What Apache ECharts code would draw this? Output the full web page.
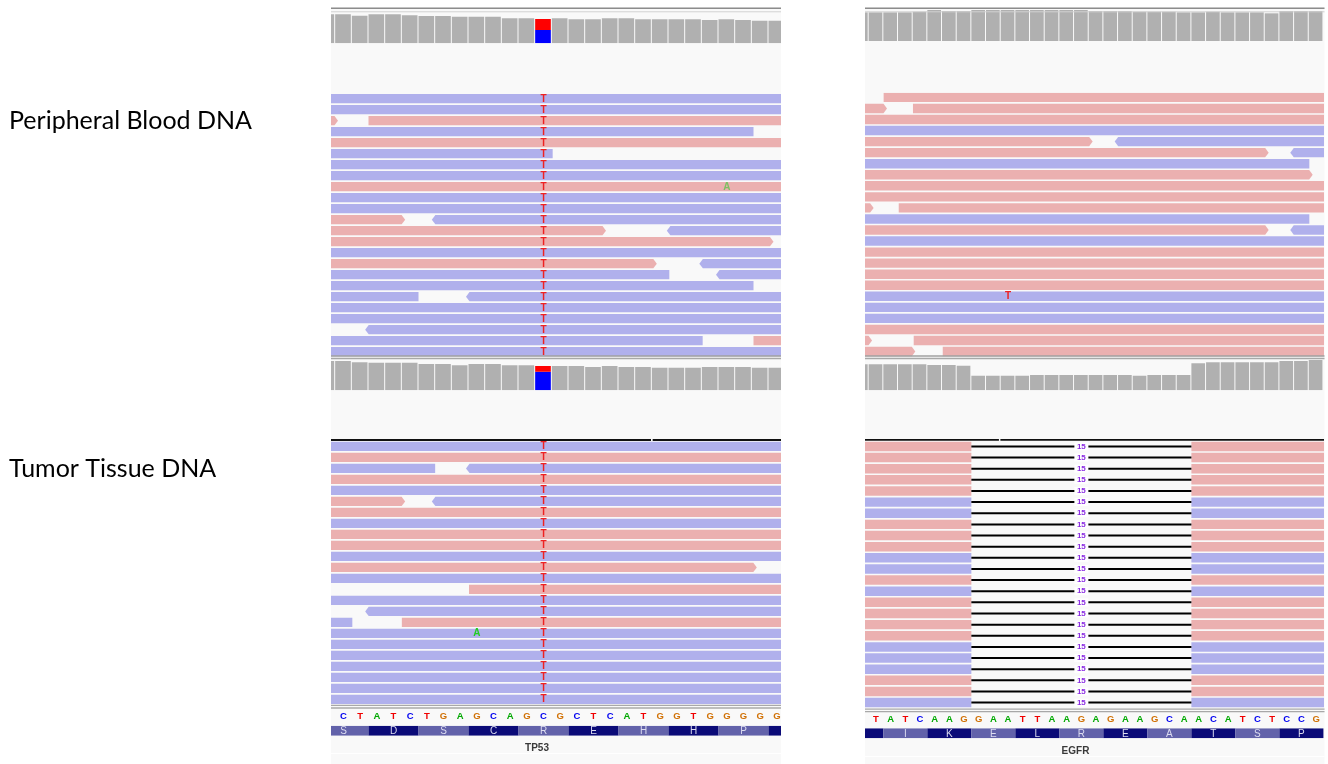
<!DOCTYPE html>
<html><head><meta charset="utf-8">
<script src="https://cdn.jsdelivr.net/npm/echarts@6/dist/echarts.min.js"></script>
<style>html,body{margin:0;padding:0;background:#fff;}#c{width:1328px;height:764px;}</style>
</head><body><div id="c"></div>
<script>
// ================= DATA =================
const sampleLabels = ['Peripheral Blood DNA', 'Tumor Tissue DNA'];
const geneNames = ['TP53', 'EGFR'];
const seqTP53 = ['C','T','A','T','C','T','G','A','G','C','A','G','C','G','C','T','C','A','T','G','G','T','G','G','G','G','G'];
const seqEGFR = ['T','A','T','C','A','A','G','G','A','A','T','T','A','A','G','A','G','A','A','G','C','A','A','C','A','T','C','T','C','C','G'];
// codon start position, amino acid
const aaTP53 = [[-1,'S'],[2,'D'],[5,'S'],[8,'C'],[11,'R'],[14,'E'],[17,'H'],[20,'H'],[23,'P'],[26,'']];
const aaEGFR = [[-2,''],[1,'I'],[4,'K'],[7,'E'],[10,'L'],[13,'R'],[16,'E'],[19,'A'],[22,'T'],[25,'S'],[28,'P']];
// coverage depth, first value at position -1
const covStart = -1;
const covBloodTP53 = [87,87,83,87,87,84,82,82,80,80,80,75,75,73,75,72,72,75,75,72,72,72,72,70,72,70,68,68];
const covBloodEGFR = [86,86,86,86,88,93,90,90,93,93,93,93,93,93,93,93,90,90,90,88,88,88,86,86,88,86,86,86,83,90,90,90];
const covTumorTP53 = [88,88,84,83,83,83,79,79,75,79,79,75,75,73,73,73,70,73,70,70,68,68,68,70,70,70,68,68];
const covTumorEGFR = [78,78,78,78,78,76,76,74,44,44,44,44,46,46,46,46,46,46,46,44,46,46,46,81,84,84,84,84,84,88,88,91];
// allele split at variant position: [pos, T count, C count]
const alleleBloodTP53 = [12, 33, 40];
const alleleTumorTP53 = [12, 17, 56];
// reads: [row, start, end, strand(1 fwd, -1 rev)]
const readsBloodTP53 = [
 [0,-3,30,-1],[1,-3,30,-1],[2,-3,0.17,1],[2,2,30,1],[3,-3,25.1,-1],[4,-3,30,1],[5,-3,13.05,-1],
 [6,-3,30,-1],[7,-3,30,-1],[8,-3,30,1],[9,-3,30,-1],[10,-3,30,-1],[11,-3,4.2,1],[11,5.8,30,-1],
 [12,-3,16.25,1],[12,19.9,30,-1],[13,-3,26.3,1],[14,-3,30,-1],[15,-3,19.3,1],[15,21.85,30,-1],
 [16,-3,20.05,-1],[16,22.85,30,-1],[17,-3,25.1,-1],[18,-3,5.0,-1],[18,7.85,30,-1],[19,-3,30,-1],
 [20,-3,30,-1],[21,1.8,30,-1],[22,-3,22.05,-1],[22,25.1,30,1],[23,-3,30,-1]
];
const readsBloodEGFR = [
 [0,1.02,35,1],[1,-3,1.25,1],[1,3.02,35,1],[2,-3,35,1],[3,-3,35,-1],[4,-3,15.27,1],[4,16.77,35,-1],
 [5,-3,27.27,1],[5,28.74,35,-1],[6,-3,30.04,-1],[7,-3,30.27,1],[8,-3,35,1],[9,-3,35,1],
 [10,-3,0.34,1],[10,2.05,35,1],[11,-3,30.04,-1],[12,-3,27.27,1],[12,28.74,35,-1],[13,-3,35,-1],
 [14,-3,35,1],[15,-3,35,1],[16,-3,35,1],[17,-3,35,1],[18,-3,35,-1],[19,-3,35,-1],[20,-3,35,-1],
 [21,-3,35,1],[22,-3,0.23,1],[22,3.07,35,1],[23,-3,3.18,1],[23,5.05,35,1]
];
const readsTumorTP53 = [
 [0,-3,30,-1],[1,-3,30,1],[2,-3,6.0,-1],[2,7.85,30,-1],[3,-3,30,1],[4,-3,30,-1],[5,-3,4.2,1],[5,5.8,30,-1],
 [6,-3,30,1],[7,-3,30,-1],[8,-3,30,1],[9,-3,30,1],[10,-3,30,-1],[11,-3,25.3,1],[12,-3,30,-1],
 [13,8.03,30,1],[14,-3,30,-1],[15,1.8,30,-1],[16,-3,1.03,-1],[16,4.0,30,1],[17,-3,30,-1],
 [18,-3,30,-1],[19,-3,30,-1],[20,-3,30,-1],[21,-3,30,-1],[22,-3,30,-1],[23,-3,30,-1]
];
// tumor EGFR reads all carry the 15 bp deletion: strand per row
const strandTumorEGFR = [1,1,1,1,1,-1,-1,1,1,1,-1,-1,1,-1,1,1,1,1,-1,-1,-1,1,1,-1];
const readSpanTumorEGFR = [-3, 36];
const delTumorEGFR = [7, 22, '15'];
// mismatches: [row, pos, base, quality]
const mmBloodTP53 = [
 [0,12,'T',1],[1,12,'T',1],[2,12,'T',1],[3,12,'T',1],[4,12,'T',1],[5,12,'T',1],[6,12,'T',1],[7,12,'T',1],
 [8,12,'T',1],[9,12,'T',1],[10,12,'T',1],[11,12,'T',1],[12,12,'T',1],[13,12,'T',1],[14,12,'T',1],[15,12,'T',1],
 [16,12,'T',1],[17,12,'T',1],[18,12,'T',1],[19,12,'T',1],[20,12,'T',1],[21,12,'T',1],[22,12,'T',1],[23,12,'T',1],
 [8,23,'A',0.55]
];
const mmBloodEGFR = [[18,9,'T',1]];
const mmTumorTP53 = [
 [0,12,'T',1],[1,12,'T',1],[2,12,'T',1],[3,12,'T',1],[4,12,'T',1],[5,12,'T',1],[6,12,'T',1],[7,12,'T',1],
 [8,12,'T',1],[9,12,'T',1],[10,12,'T',1],[11,12,'T',1],[12,12,'T',1],[13,12,'T',1],[14,12,'T',1],[15,12,'T',1],
 [16,12,'T',1],[17,12,'T',1],[18,12,'T',1],[19,12,'T',1],[20,12,'T',1],[21,12,'T',1],[22,12,'T',1],[23,12,'T',1],
 [17,8,'A',1]
];
// downsampled intervals (black bars)
const dsTumorTP53 = [[-1,18.95],[19.05,28]];
const dsTumorEGFR = [[-1,8.88],[8.98,33]];

// ================= STYLE / LAYOUT =================
const PINK = '#ebb0b0', BLUE = '#b0b0ec', COVGRAY = '#b0b0b0';
const BASECOL = {A:'#00a800', C:'#0000f0', G:'#d17105', T:'#f00000'};
const MMCOL = {A:'#22cc22', C:'#0000ff', G:'#d17105', T:'#ee2222'};
const FONT = '"Liberation Sans", Arial, sans-serif';
const XL = {left:331, width:450, min:-0.25, max:26.75};
const XR = {left:865, width:459, min:-0.25, max:31.04};
const grids = [
  {x:XL, top:11.3, height:32, ymin:0, ymax:96},            //0 cov blood TP53
  {x:XL, top:94, height:264, ymin:0, ymax:24, inv:true},    //1 reads blood TP53
  {x:XR, top:9, height:32, ymin:0, ymax:96},                //2 cov blood EGFR
  {x:XR, top:92.7, height:265.2, ymin:0, ymax:24, inv:true},//3 reads blood EGFR
  {x:XL, top:358.3, height:32, ymin:0, ymax:96},            //4 cov tumor TP53
  {x:XL, top:439, height:266.75, ymin:-0.25, ymax:24, inv:true}, //5 reads tumor TP53
  {x:XR, top:358.3, height:32, ymin:0, ymax:96},            //6 cov tumor EGFR
  {x:XR, top:438.9, height:270.1, ymin:-0.25, ymax:24, inv:true}, //7 reads tumor EGFR
  {x:XL, top:711, height:10, ymin:0, ymax:1},               //8 seq TP53
  {x:XL, top:725.7, height:10, ymin:0, ymax:1},             //9 aa TP53
  {x:XR, top:714.3, height:10, ymin:0, ymax:1},             //10 seq EGFR
  {x:XR, top:728.3, height:10, ymin:0, ymax:1}              //11 aa EGFR
];

function covSeries(gi, cov, allele) {
  return {type:'custom', xAxisIndex:gi, yAxisIndex:gi, clip:true,
    data: cov.map((v,i)=>[covStart+i, v]),
    renderItem(p, api) {
      const x = api.value(0), v = api.value(1);
      const p0 = api.coord([x,0]), p1 = api.coord([x+1,v]);
      const w = p1[0]-p0[0]-1;
      if (allele && x === allele[0]) {
        const pc = api.coord([x, allele[2]]);
        return {type:'group', children:[
          {type:'rect', shape:{x:p0[0], y:pc[1], width:w, height:p0[1]-pc[1]}, style:{fill:'#0000ff'}},
          {type:'rect', shape:{x:p0[0], y:p1[1], width:w, height:pc[1]-p1[1]}, style:{fill:'#ff0000'}}
        ]};
      }
      return {type:'rect', shape:{x:p0[0], y:p1[1], width:w, height:p0[1]-p1[1]}, style:{fill:COVGRAY}};
    }};
}
function readShape(x0, x1, y0, h, st) {
  const y1 = y0+h, ym = y0+h/2, t = 3.5;
  const pts = st > 0 ? [[x0,y0],[x1-t,y0],[x1,ym],[x1-t,y1],[x0,y1]]
                     : [[x0+t,y0],[x1,y0],[x1,y1],[x0+t,y1],[x0,ym]];
  return {type:'polygon', shape:{points:pts}, style:{fill: st>0?PINK:BLUE}};
}
function readsSeries(gi, reads) {
  return {type:'custom', xAxisIndex:gi, yAxisIndex:gi, clip:true,
    data: reads.map(r=>[r[1], r[2], r[0], r[3]]),
    renderItem(p, api) {
      const s=api.value(0), e=api.value(1), row=api.value(2), st=api.value(3);
      const a = api.coord([s,row]), b = api.coord([e,row]), c = api.coord([s,row+1]);
      const pitch = c[1]-a[1];
      return readShape(a[0], b[0], a[1], pitch*0.85, st);
    }};
}
function mmSeries(gi, mm) {
  return {type:'custom', xAxisIndex:gi, yAxisIndex:gi, clip:true, z:5,
    data: mm.map(m=>[m[1], m[0], m[3]]),
    renderItem(p, api) {
      const pos=api.value(0), row=api.value(1), q=api.value(2);
      const a = api.coord([pos+0.5,row]), c = api.coord([pos+0.5,row+1]);
      const base = mm[p.dataIndex][2];
      return {type:'text', x:a[0], y:a[1]+(c[1]-a[1])*0.45,
        style:{text:base, fill:MMCOL[base], opacity:q, font:'bold 10px '+FONT, align:'center', verticalAlign:'middle', textAlign:'center', textVerticalAlign:'middle'}};
    }};
}
function delReadsSeries(gi, strands, span, del) {
  return {type:'custom', xAxisIndex:gi, yAxisIndex:gi, clip:true,
    data: strands.map((s,i)=>[i, s]),
    renderItem(p, api) {
      const row=api.value(0), st=api.value(1);
      const a = api.coord([span[0],row]), c = api.coord([span[0],row+1]);
      const pitch = c[1]-a[1], h = pitch*0.85, y0 = a[1];
      const d0 = api.coord([del[0],row])[0], d1 = api.coord([del[1],row])[0], e = api.coord([span[1],row])[0];
      const ym = y0 + h/2, xm = (d0+d1)/2;
      return {type:'group', children:[
        {type:'rect', shape:{x:a[0], y:y0, width:d0-a[0], height:h}, style:{fill:st>0?PINK:BLUE}},
        {type:'rect', shape:{x:d1, y:y0, width:e-d1, height:h}, style:{fill:st>0?PINK:BLUE}},
        {type:'line', shape:{x1:d0, y1:ym, x2:d1, y2:ym}, style:{stroke:'#000', lineWidth:2}},
        {type:'rect', shape:{x:xm-7, y:ym-4, width:14, height:8}, style:{fill:'#fff'}},
        {type:'text', x:xm, y:ym, style:{text:del[2], fill:'#8a2be2', font:'bold 8px '+FONT, align:'center', verticalAlign:'middle', textAlign:'center', textVerticalAlign:'middle'}}
      ]};
    }};
}
function dsSeries(gi, ds) {
  return {type:'custom', xAxisIndex:gi, yAxisIndex:gi, clip:true, z:4,
    data: ds.map(d=>[d[0], d[1]]),
    renderItem(p, api) {
      const a = api.coord([api.value(0), -0.17]), b = api.coord([api.value(1), -0.17]);
      return {type:'line', shape:{x1:a[0], y1:a[1], x2:b[0], y2:b[1]}, style:{stroke:'#111', lineWidth:2}};
    }};
}
function seqSeries(gi, seq) {
  return {type:'custom', xAxisIndex:gi, yAxisIndex:gi, clip:true,
    data: seq.map((b,i)=>[i, 0.5]),
    renderItem(p, api) {
      const c = api.coord([api.value(0)+0.5, 0.5]);
      const b = seq[p.dataIndex];
      return {type:'text', x:c[0], y:c[1], style:{text:b, fill:BASECOL[b], font:'bold 9.5px '+FONT, align:'center', verticalAlign:'middle', textAlign:'center', textVerticalAlign:'middle'}};
    }};
}
function aaSeries(gi, aa, firstDark) {
  return {type:'custom', xAxisIndex:gi, yAxisIndex:gi, clip:true,
    data: aa.map(a=>[a[0], 0]),
    renderItem(p, api) {
      const s = api.value(0);
      const a = api.coord([s, 1]), b = api.coord([s+3, 0]);
      const dark = (p.dataIndex % 2 === 0) === firstDark;
      return {type:'group', children:[
        {type:'rect', shape:{x:a[0], y:a[1], width:b[0]-a[0], height:b[1]-a[1]}, style:{fill: dark?'#0b0b78':'#6262aa'}},
        {type:'text', x:(a[0]+b[0])/2, y:(a[1]+b[1])/2+0.5, style:{text:aa[p.dataIndex][1], fill:'#dcdcf0', font:'10px '+FONT, align:'center', verticalAlign:'middle', textAlign:'center', textVerticalAlign:'middle'}}
      ]};
    }};
}

const chart = echarts.init(document.getElementById('c'), null, {renderer:'canvas'});
const hline = (x1,x2,y,c,w)=>({type:'line', z:100, shape:{x1,y1:y,x2,y2:y}, style:{stroke:c, lineWidth:w}});
chart.setOption({
  animation:false,
  grid: grids.map(g=>({left:g.x.left, width:g.x.width, top:g.top, height:g.height, containLabel:false})),
  xAxis: grids.map((g,i)=>({type:'value', gridIndex:i, min:g.x.min, max:g.x.max, show:false})),
  yAxis: grids.map((g,i)=>({type:'value', gridIndex:i, min:g.ymin, max:g.ymax, inverse:!!g.inv, show:false})),
  graphic: [
    {type:'rect', z:0, shape:{x:331, y:7.5, width:450, height:757}, style:{fill:'#f9f9f9'}},
    {type:'rect', z:0, shape:{x:865, y:7.5, width:459.5, height:757}, style:{fill:'#f9f9f9'}},
    hline(331,781,8.3,'#8c8c8c',1.5), hline(331,781,11.8,'#d2d2d2',1),
    hline(865,1324.5,8.3,'#8c8c8c',1.5), hline(865,1324.5,11.8,'#d2d2d2',1),
    hline(331,781,356,'#a0a0a0',1.5), hline(331,781,358.5,'#a8a8a8',1.5),
    hline(865,1324.5,356,'#a0a0a0',1.5), hline(865,1324.5,358.5,'#a8a8a8',1.5),
    hline(331,781,705.4,'#a8a8a8',1.3), hline(331,781,708,'#a8a8a8',1.3),
    hline(865,1324.5,709.2,'#a8a8a8',1.3), hline(865,1324.5,711.6,'#a8a8a8',1.3),
    hline(331,781,753.5,'#ffffff',1), hline(865,1324.5,756.5,'#ffffff',1),
    {type:'text', z:100, x:537, y:748, style:{text:geneNames[0], font:'bold 10px '+FONT, fill:'#3a3a3a', align:'center', verticalAlign:'middle', textAlign:'center', textVerticalAlign:'middle'}},
    {type:'text', z:100, x:1075.5, y:751, style:{text:geneNames[1], font:'bold 10px '+FONT, fill:'#3a3a3a', align:'center', verticalAlign:'middle', textAlign:'center', textVerticalAlign:'middle'}},
    {type:'text', z:100, x:9, y:121, style:{text:sampleLabels[0], font:'25px Lato, "Open Sans", sans-serif', fill:'#000', verticalAlign:'middle', textVerticalAlign:'middle'}},
    {type:'text', z:100, x:9, y:469, style:{text:sampleLabels[1], font:'25px Lato, "Open Sans", sans-serif', fill:'#000', verticalAlign:'middle', textVerticalAlign:'middle'}}
  ],
  series: [
    covSeries(0, covBloodTP53, alleleBloodTP53),
    readsSeries(1, readsBloodTP53), mmSeries(1, mmBloodTP53),
    covSeries(2, covBloodEGFR, null),
    readsSeries(3, readsBloodEGFR), mmSeries(3, mmBloodEGFR),
    covSeries(4, covTumorTP53, alleleTumorTP53),
    readsSeries(5, readsTumorTP53), mmSeries(5, mmTumorTP53), dsSeries(5, dsTumorTP53),
    covSeries(6, covTumorEGFR, null),
    delReadsSeries(7, strandTumorEGFR, readSpanTumorEGFR, delTumorEGFR), dsSeries(7, dsTumorEGFR),
    seqSeries(8, seqTP53), aaSeries(9, aaTP53, false),
    seqSeries(10, seqEGFR), aaSeries(11, aaEGFR, true)
  ]
});
</script></body></html>
